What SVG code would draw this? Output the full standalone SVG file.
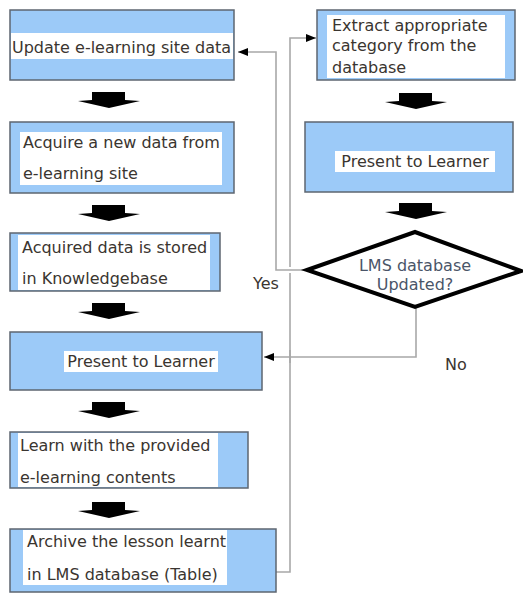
<svg xmlns="http://www.w3.org/2000/svg" width="523" height="597" viewBox="0 0 523 597">
<defs>
<style>
.box{fill:#9ccaf8;stroke:#5d6670;stroke-width:1.5}
.wb{fill:#ffffff}
.t{font-family:"DejaVu Sans",Verdana,sans-serif;font-size:16px;fill:#3a3530}
.dt{font-family:"DejaVu Sans",Verdana,sans-serif;font-size:16px;fill:#4a5568}
.blk{fill:#000}
.ln{fill:none;stroke:#a8a8a8;stroke-width:1.6}
</style>
<marker id="ah" viewBox="0 0 10 8" refX="10" refY="4" markerWidth="10" markerHeight="8" markerUnits="userSpaceOnUse" orient="auto">
<path d="M0,0 L10,4 L0,8 Z" fill="#000"/>
</marker>
<path id="barrow" d="M-17,0 H16 V8 L31,9 L0,16 L-31,9 L-17,8 Z"/>
</defs>

<g id="connectors">
<path class="ln" d="M306,270 H276 V52 H238" marker-end="url(#ah)"/>
<path class="ln" d="M290,267 V38 H316" marker-end="url(#ah)"/>
<path class="ln" d="M276,572 H290 V350"/>
<path class="ln" d="M290,363 V273"/>
<path class="ln" d="M416,307 V357 H264" marker-end="url(#ah)"/>
<use href="#barrow" class="blk" x="109" y="92"/>
<use href="#barrow" class="blk" x="109" y="205"/>
<use href="#barrow" class="blk" x="109" y="303"/>
<use href="#barrow" class="blk" x="109" y="402"/>
<use href="#barrow" class="blk" x="109" y="502"/>
<use href="#barrow" class="blk" x="416" y="93"/>
<use href="#barrow" class="blk" x="416" y="203"/>
</g>

<g id="n1">
<rect class="box" x="10" y="10" width="224" height="70"/>
<rect class="wb" x="11" y="33" width="222" height="26"/>
<text class="t" x="12" y="53">Update e-learning site data</text>
</g>

<g id="n2">
<rect class="box" x="10" y="122" width="224" height="71"/>
<rect class="wb" x="20" y="132" width="202" height="53"/>
<text class="t" x="23" y="148">Acquire a new data from</text>
<text class="t" x="23" y="179">e-learning site</text>
</g>

<g id="n3">
<rect class="box" x="10" y="233" width="210" height="58"/>
<rect class="wb" x="18" y="235" width="192" height="55"/>
<text class="t" x="22" y="253">Acquired data is stored</text>
<text class="t" x="22" y="284">in Knowledgebase</text>
</g>

<g id="n4">
<rect class="box" x="10" y="332" width="252" height="58"/>
<rect class="wb" x="64" y="351" width="154" height="21"/>
<text class="t" x="141" y="367" text-anchor="middle">Present to Learner</text>
</g>

<g id="n5">
<rect class="box" x="10" y="432" width="238" height="56"/>
<rect class="wb" x="18" y="433" width="200" height="54"/>
<text class="t" x="20" y="451">Learn with the provided</text>
<text class="t" x="20" y="483">e-learning contents</text>
</g>

<g id="n6">
<rect class="box" x="10" y="529" width="266" height="63"/>
<rect class="wb" x="23" y="530" width="204" height="55"/>
<text class="t" x="27" y="547">Archive the lesson learnt</text>
<text class="t" x="27" y="580">in LMS database (Table)</text>
</g>

<g id="n7">
<rect class="box" x="317" y="10" width="198" height="70"/>
<rect class="wb" x="327" y="15" width="178" height="63"/>
<text class="t" x="332" y="31">Extract appropriate</text>
<text class="t" x="332" y="51">category from the</text>
<text class="t" x="332" y="73">database</text>
</g>

<g id="n8">
<rect class="box" x="305" y="122" width="208" height="70"/>
<rect class="wb" x="335" y="151" width="160" height="21"/>
<text class="t" x="415" y="167" text-anchor="middle">Present to Learner</text>
</g>

<g id="n9">
<polygon points="307,270 415,232 521,271 415,307" fill="#fff" stroke="#000" stroke-width="4" stroke-linejoin="miter"/>
<text class="dt" x="415" y="271" text-anchor="middle">LMS database</text>
<text class="dt" x="415" y="290" text-anchor="middle">Updated?</text>
</g>

<g id="labels">
<text class="t" x="253" y="289">Yes</text>
<text class="t" x="445" y="370">No</text>
</g>
</svg>
